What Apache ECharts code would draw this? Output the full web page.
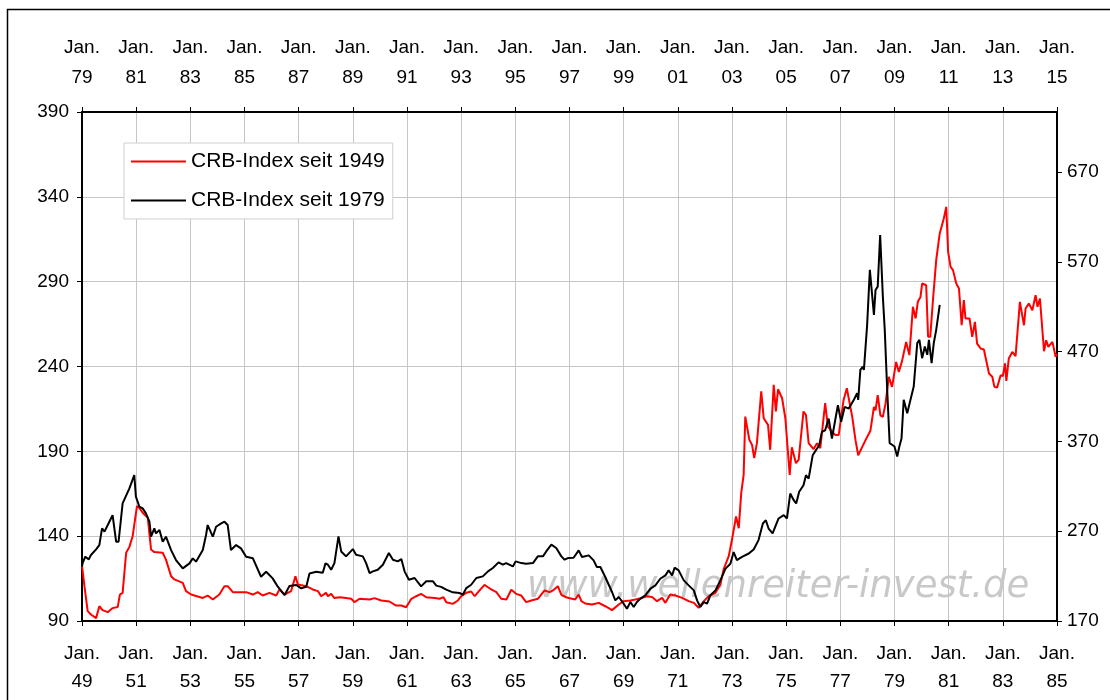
<!DOCTYPE html>
<html lang="de">
<head>
<meta charset="UTF-8" />
<title>CRB-Index</title>
<style>
    body { margin: 0; background: #fff; }
    #chart { width: 1110px; height: 700px; }
</style>
<script src="https://cdn.jsdelivr.net/npm/echarts@6/dist/echarts.min.js"></script>
</head>
<body>
<div id="chart"></div>
<script>
// CRB-Index seit 1949 (untere Zeitachse, linke Skala)
const redYears = [
    1949.00, 1949.09, 1949.21, 1949.33, 1949.52, 1949.64, 1949.76, 1949.95, 1950.13, 1950.32,
    1950.40, 1950.50, 1950.63, 1950.75, 1950.87, 1951.03, 1951.12, 1951.24, 1951.43, 1951.55,
    1951.67, 1951.98, 1952.10, 1952.29, 1952.41, 1952.72, 1952.84, 1953.03, 1953.46, 1953.64,
    1953.83, 1954.07, 1954.26, 1954.38, 1954.57, 1955.06, 1955.31, 1955.49, 1955.67, 1955.92,
    1956.17, 1956.29, 1956.48, 1956.72, 1956.88, 1956.97, 1957.28, 1957.52, 1957.71, 1957.83,
    1958.01, 1958.08, 1958.20, 1958.32, 1958.51, 1958.75, 1958.94, 1959.06, 1959.25, 1959.62,
    1959.80, 1960.05, 1960.35, 1960.60, 1960.79, 1960.97, 1961.16, 1961.34, 1961.52, 1961.71,
    1962.02, 1962.20, 1962.35, 1962.45, 1962.69, 1962.88, 1963.00, 1963.19, 1963.37, 1963.50,
    1963.68, 1963.86, 1963.99, 1964.11, 1964.30, 1964.48, 1964.67, 1964.85, 1965.03, 1965.22,
    1965.40, 1965.59, 1965.83, 1966.08, 1966.27, 1966.39, 1966.57, 1966.70, 1966.88, 1966.97,
    1967.21, 1967.34, 1967.44, 1967.58, 1967.83, 1968.08, 1968.32, 1968.57, 1968.82, 1969.00,
    1969.25, 1969.43, 1969.68, 1969.86, 1970.05, 1970.23, 1970.42, 1970.54, 1970.72, 1970.91,
    1971.16, 1971.40, 1971.59, 1971.77, 1971.96, 1972.14, 1972.39, 1972.57, 1972.69, 1972.88,
    1973.00, 1973.06, 1973.15, 1973.25, 1973.34, 1973.43, 1973.49, 1973.64, 1973.74, 1973.82,
    1973.92, 1974.08, 1974.17, 1974.33, 1974.41, 1974.54, 1974.62, 1974.70, 1974.85, 1974.97,
    1975.13, 1975.21, 1975.36, 1975.46, 1975.64, 1975.73, 1975.83, 1976.01, 1976.14, 1976.26,
    1976.44, 1976.54, 1976.69, 1976.81, 1976.94, 1977.12, 1977.24, 1977.31, 1977.44, 1977.56,
    1977.66, 1977.81, 1977.93, 1978.11, 1978.24, 1978.30, 1978.38, 1978.48, 1978.57, 1978.67,
    1978.79, 1978.91, 1979.06, 1979.16, 1979.28, 1979.34, 1979.43, 1979.55, 1979.68, 1979.78,
    1979.86, 1979.96, 1980.02, 1980.17, 1980.24, 1980.32, 1980.42, 1980.54, 1980.67, 1980.82,
    1980.91, 1980.98, 1981.07, 1981.16, 1981.23, 1981.28, 1981.38, 1981.48, 1981.56, 1981.62,
    1981.77, 1981.87, 1981.97, 1982.05, 1982.18, 1982.30, 1982.49, 1982.61, 1982.69, 1982.79,
    1982.92, 1983.00, 1983.08, 1983.13, 1983.22, 1983.35, 1983.47, 1983.63, 1983.78, 1983.84,
    1983.96, 1984.09, 1984.21, 1984.28, 1984.37, 1984.52, 1984.60, 1984.68, 1984.83, 1984.95,
    1985.00
];
const redValues = [
    122.7, 110.5, 95.8, 93.8, 91.7, 98.7, 96.4, 95.2, 97.6, 98.3,
    105.6, 106.6, 130.2, 133.7, 140.0, 157.7, 156.7, 153.8, 150.8, 132.1,
    130.6, 130.2, 126.2, 116.4, 114.5, 112.5, 107.6, 105.6, 103.6, 105.0,
    102.7, 105.6, 110.5, 110.5, 107.0, 107.0, 105.6, 107.0, 105.0, 106.6,
    105.0, 108.6, 105.6, 107.6, 116.4, 111.5, 110.5, 108.6, 107.6, 104.6,
    106.6, 104.6, 106.0, 103.5, 104.0, 103.5, 103.1, 101.1, 103.1, 102.7,
    103.5, 102.1, 101.5, 99.1, 99.1, 98.1, 103.1, 104.6, 106.0, 104.0,
    103.5, 103.1, 104.0, 101.1, 100.1, 102.1, 104.6, 106.6, 107.4, 104.6,
    108.0, 111.3, 109.9, 108.6, 107.0, 103.1, 102.7, 108.4, 106.0, 105.0,
    101.1, 102.1, 103.1, 108.0, 107.0, 108.0, 110.5, 105.4, 104.0, 103.6,
    102.7, 105.6, 101.7, 100.3, 99.7, 100.7, 98.7, 96.4, 99.7, 101.7,
    102.1, 102.7, 103.6, 104.6, 104.2, 101.7, 103.6, 100.7, 105.6, 105.0,
    103.6, 101.7, 100.7, 97.8, 101.7, 104.6, 106.6, 111.5, 120.4, 128.2,
    138.0, 138.8, 151.6, 144.7, 165.3, 176.1, 210.5, 196.8, 193.8, 186.0,
    194.8, 225.3, 209.5, 205.6, 190.9, 229.2, 213.5, 226.6, 221.3, 209.5,
    176.1, 192.4, 183.0, 185.0, 213.5, 211.5, 194.8, 191.3, 194.8, 191.9,
    218.4, 204.6, 201.7, 199.7, 199.7, 220.3, 227.2, 227.0, 210.3, 196.6,
    187.7, 192.6, 196.6, 202.1, 216.2, 214.2, 223.1, 211.2, 210.3, 218.2,
    233.9, 228.0, 242.7, 236.8, 243.3, 243.7, 254.5, 246.7, 275.2, 268.3,
    278.1, 281.0, 288.9, 287.9, 257.5, 257.5, 279.1, 302.7, 318.4, 327.2,
    334.1, 307.6, 298.7, 296.8, 297.2, 288.9, 286.0, 264.3, 279.1, 268.3,
    268.3, 257.5, 266.3, 253.5, 250.6, 250.0, 235.9, 234.0, 228.0, 227.6,
    234.9, 234.3, 241.8, 231.5, 244.7, 248.6, 246.1, 278.1, 264.3, 274.2,
    277.1, 273.2, 282.0, 275.2, 280.1, 249.0, 255.5, 251.6, 254.5, 245.7,
    247.6
];

// CRB-Index seit 1979 (obere Zeitachse, rechte Skala)
const blackYears = [
    1979.00, 1979.02, 1979.12, 1979.25, 1979.33, 1979.52, 1979.64, 1979.74, 1979.83, 1980.01,
    1980.13, 1980.26, 1980.35, 1980.50, 1980.75, 1980.93, 1980.99, 1981.12, 1981.24, 1981.36,
    1981.49, 1981.55, 1981.67, 1981.73, 1981.86, 1981.98, 1982.10, 1982.29, 1982.47, 1982.72,
    1982.97, 1983.09, 1983.21, 1983.46, 1983.58, 1983.64, 1983.83, 1983.95, 1984.14, 1984.26,
    1984.38, 1984.50, 1984.69, 1984.87, 1985.06, 1985.31, 1985.61, 1985.80, 1986.04, 1986.23,
    1986.48, 1986.66, 1986.91, 1987.09, 1987.28, 1987.40, 1987.65, 1987.89, 1987.99, 1988.08,
    1988.20, 1988.32, 1988.47, 1988.57, 1988.75, 1989.00, 1989.12, 1989.37, 1989.49, 1989.62,
    1989.74, 1989.92, 1990.11, 1990.33, 1990.48, 1990.66, 1990.79, 1990.91, 1991.07, 1991.28,
    1991.52, 1991.71, 1991.96, 1992.08, 1992.26, 1992.45, 1992.69, 1992.94, 1993.06, 1993.19,
    1993.37, 1993.56, 1993.80, 1993.99, 1994.17, 1994.38, 1994.54, 1994.66, 1994.91, 1995.01,
    1995.22, 1995.40, 1995.65, 1995.83, 1996.02, 1996.14, 1996.33, 1996.51, 1996.70, 1996.82,
    1996.94, 1997.15, 1997.34, 1997.46, 1997.71, 1997.89, 1998.01, 1998.14, 1998.32, 1998.57,
    1998.69, 1998.82, 1999.00, 1999.12, 1999.25, 1999.37, 1999.49, 1999.62, 1999.80, 1999.99,
    2000.17, 2000.35, 2000.54, 2000.66, 2000.79, 2000.88, 2001.03, 2001.22, 2001.40, 2001.59,
    2001.71, 2001.83, 2001.96, 2002.08, 2002.20, 2002.39, 2002.57, 2002.76, 2002.94, 2003.06,
    2003.18, 2003.37, 2003.62, 2003.80, 2003.98, 2004.14, 2004.25, 2004.35, 2004.50, 2004.62,
    2004.72, 2004.91, 2005.03, 2005.15, 2005.28, 2005.37, 2005.48, 2005.64, 2005.73, 2005.83,
    2005.98, 2006.10, 2006.22, 2006.32, 2006.44, 2006.57, 2006.69, 2006.81, 2006.91, 2007.03,
    2007.16, 2007.31, 2007.50, 2007.62, 2007.66, 2007.74, 2007.83, 2007.87, 2007.99, 2008.09,
    2008.24, 2008.30, 2008.38, 2008.47, 2008.57, 2008.64, 2008.73, 2008.82, 2008.91, 2009.00,
    2009.10, 2009.18, 2009.26, 2009.34, 2009.47, 2009.59, 2009.71, 2009.84, 2009.92, 2010.02,
    2010.12, 2010.21, 2010.27, 2010.37, 2010.45, 2010.54, 2010.61, 2010.67
];
const blackValues = [
    230.5, 234.2, 241.6, 238.6, 243.5, 249.8, 254.6, 273.2, 269.5, 280.6,
    288.0, 258.3, 258.3, 301.0, 317.7, 332.6, 308.5, 297.3, 295.5, 289.9,
    280.6, 263.9, 273.2, 267.6, 271.3, 258.3, 263.9, 249.0, 237.9, 228.6,
    234.2, 239.8, 236.1, 249.0, 265.8, 276.9, 263.9, 275.0, 278.7, 280.6,
    276.9, 249.0, 254.6, 250.9, 241.6, 239.8, 219.3, 224.9, 217.5, 208.2,
    198.9, 208.9, 210.1, 206.3, 208.2, 223.0, 224.9, 223.8, 234.2, 232.7,
    227.1, 234.5, 264.2, 247.5, 242.0, 250.1, 243.8, 242.0, 234.5, 223.4,
    225.3, 227.1, 232.7, 245.7, 238.3, 236.4, 239.0, 225.3, 216.0, 217.9,
    208.6, 214.2, 214.2, 209.4, 208.0, 204.9, 201.9, 201.2, 199.3, 206.7,
    210.4, 217.9, 219.7, 225.3, 229.0, 235.3, 232.7, 234.5, 230.8, 236.4,
    234.5, 233.8, 234.5, 242.0, 242.0, 247.5, 255.0, 251.3, 242.0, 238.3,
    240.1, 240.5, 248.7, 241.3, 243.1, 237.5, 230.1, 230.1, 219.0, 202.3,
    193.0, 196.7, 189.3, 183.7, 191.1, 185.6, 191.1, 194.9, 198.6, 206.0,
    209.7, 217.1, 220.8, 226.4, 220.8, 229.4, 226.4, 215.3, 209.7, 204.1,
    193.0, 185.6, 191.1, 189.3, 198.6, 204.1, 215.3, 228.3, 233.8, 246.8,
    237.8, 241.5, 245.2, 249.7, 260.1, 278.6, 282.3, 273.0, 267.5, 276.7,
    284.2, 287.9, 284.2, 312.0, 304.6, 300.9, 313.9, 321.3, 332.4, 328.6,
    354.7, 360.3, 365.8, 380.7, 382.5, 395.5, 373.3, 393.6, 410.3, 391.8,
    408.5, 406.6, 416.4, 423.8, 416.4, 449.8, 453.5, 449.8, 499.9, 561.1,
    511.0, 538.8, 542.5, 600.0, 531.4, 494.3, 427.5, 368.2, 366.3, 364.4,
    353.3, 364.4, 373.7, 416.4, 401.5, 416.4, 431.2, 479.5, 483.2, 462.8,
    475.7, 466.5, 483.2, 457.2, 479.5, 494.3, 496.2, 522.1
];

const rightTicks = [170, 270, 370, 470, 570, 670];
const seriesNames = ['CRB-Index seit 1949', 'CRB-Index seit 1979'];
const watermark = 'www.wellenreiter-invest.de';

const font = "'Liberation Sans', Arial, sans-serif";
const yearLabel = v => 'Jan.\n' + String(Math.round(v) % 100).padStart(2, '0');

const chart = echarts.init(document.getElementById('chart'));
chart.setOption({
    animation: false,
    backgroundColor: '#fff',
    textStyle: { fontFamily: font },
    grid: { left: 82, right: 53, top: 112, bottom: 79 },
    legend: {
        orient: 'vertical',
        left: 124,
        top: 143,
        padding: [8, 8, 8, 6],
        itemWidth: 55,
        itemHeight: 14,
        itemGap: 18,
        backgroundColor: '#fff',
        borderColor: '#cfcfcf',
        borderWidth: 1,
        itemStyle: { opacity: 0 },
        lineStyle: { width: 2 },
        textStyle: { fontFamily: font, fontSize: 21, color: '#000' },
        data: seriesNames
    },
    graphic: [
        {
            type: 'rect',
            silent: true,
            shape: { x: 7.5, y: 9.5, width: 1300, height: 900 },
            style: { fill: 'none', stroke: '#000', lineWidth: 1.5 }
        },
        {
            type: 'text',
            silent: true,
            z: -1,
            left: 527,
            top: 569,
            style: {
                text: watermark,
                fontFamily: "'DejaVu Sans', sans-serif",
                fontStyle: 'italic',
                fontSize: 37,
                fill: '#c8c8c8',
                shadowColor: 'rgba(150,150,150,0.8)',
                shadowBlur: 4
            }
        }
    ],
    xAxis: [
        {
            type: 'value',
            position: 'bottom',
            min: 1949,
            max: 1985,
            interval: 2,
            axisLine: { onZero: false, lineStyle: { color: '#000', width: 2 } },
            axisTick: { length: 5, lineStyle: { color: '#000' } },
            axisLabel: { formatter: yearLabel, margin: 19, fontSize: 19, lineHeight: 28, color: '#000', fontFamily: font },
            splitLine: { lineStyle: { color: '#c6c6c6', width: 1 } }
        },
        {
            type: 'value',
            position: 'top',
            min: 1979,
            max: 2015,
            interval: 2,
            axisLine: { onZero: false, lineStyle: { color: '#000', width: 2 } },
            axisTick: { length: 5, lineStyle: { color: '#000' } },
            axisLabel: { formatter: yearLabel, margin: 19, fontSize: 19, lineHeight: 30, color: '#000', fontFamily: font },
            splitLine: { show: false }
        }
    ],
    yAxis: [
        {
            type: 'value',
            position: 'left',
            min: 90,
            max: 390,
            interval: 50,
            axisLine: { show: true, onZero: false, lineStyle: { color: '#000', width: 2 } },
            axisTick: { show: true, length: 5, lineStyle: { color: '#000' } },
            axisLabel: { margin: 13, fontSize: 19, color: '#000', fontFamily: font },
            splitLine: { lineStyle: { color: '#c6c6c6', width: 1 } }
        },
        {
            type: 'value',
            position: 'right',
            min: 170,
            max: 737,
            axisLine: { show: true, onZero: false, lineStyle: { color: '#000', width: 2 } },
            axisTick: { show: true, length: 5, customValues: rightTicks, lineStyle: { color: '#000' } },
            axisLabel: { margin: 10, fontSize: 19, color: '#000', fontFamily: font, customValues: rightTicks },
            splitLine: { show: false }
        }
    ],
    series: [
        {
            name: seriesNames[0],
            type: 'line',
            xAxisIndex: 0,
            yAxisIndex: 0,
            showSymbol: false,
            symbol: 'none',
            color: '#ff0000',
            lineStyle: { color: '#ff0000', width: 2 },
            data: redYears.map((y, i) => [y, redValues[i]])
        },
        {
            name: seriesNames[1],
            type: 'line',
            xAxisIndex: 1,
            yAxisIndex: 1,
            showSymbol: false,
            symbol: 'none',
            color: '#000',
            lineStyle: { color: '#000', width: 2 },
            data: blackYears.map((y, i) => [y, blackValues[i]])
        }
    ]
});
</script>
</body>
</html>
